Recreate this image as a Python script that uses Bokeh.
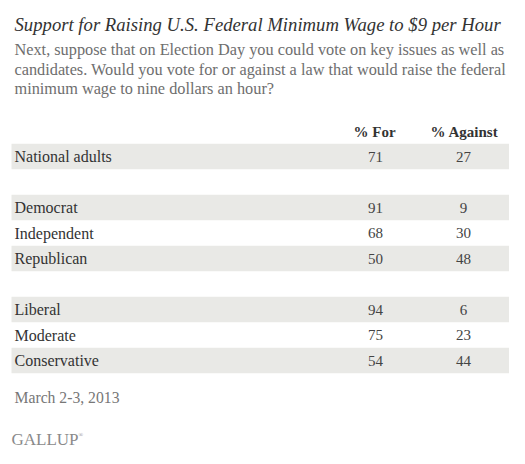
from bokeh.plotting import figure
from bokeh.models import Range1d, ColumnDataSource, Label
from bokeh.core.properties import value
from bokeh.embed import file_html
from bokeh.resources import INLINE

# ---- data ----
title = "Support for Raising U.S. Federal Minimum Wage to $9 per Hour"
subtitle = [
    "Next, suppose that on Election Day you could vote on key issues as well as",
    "candidates. Would you vote for or against a law that would raise the federal",
    "minimum wage to nine dollars an hour?",
]
col_headers = ["% For", "% Against"]
groups = [
    ["National adults"],
    ["Democrat", "Independent", "Republican"],
    ["Liberal", "Moderate", "Conservative"],
]
pct_for = [71, 91, 68, 50, 94, 75, 54]
pct_against = [27, 9, 30, 48, 6, 23, 44]
date_note = "March 2-3, 2013"
source_note = "GALLUP"

FONT = "Liberation Serif"
W, H = 509, 448

p = figure(width=W, height=H, output_backend="svg", toolbar_location=None,
           x_range=Range1d(0, W), y_range=Range1d(H, 0),
           min_border=0, outline_line_color=None)
p.axis.visible = False
p.grid.visible = False
p.background_fill_color = "white"
p.border_fill_color = "white"

# row layout (slot positions with blank spacer rows between groups)
labels, ys, shaded = [], [], []
slot = 0
row0, pitch = 156, 25.5
for gi, g in enumerate(groups):
    for k, name in enumerate(g):
        labels.append(name)
        ys.append(row0 + pitch * slot)
        shaded.append(k % 2 == 0)
        slot += 1
    slot += 1

band_y = [y for y, s in zip(ys, shaded) if s]
p.rect(x=260.5, y=band_y, width=499, height=pitch, fill_color="#e9e9e6",
       line_color=None)

src = ColumnDataSource(dict(
    label=labels, y=ys,
    f=[str(v) for v in pct_for], a=[str(v) for v in pct_against],
))
p.text(x=14, y="y", text="label", source=src, text_font=value(FONT),
       text_font_size="16px", text_color="#333333", text_baseline="middle",
       text_align="left")
p.text(x=375, y="y", text="f", source=src, text_font=value(FONT),
       text_font_size="15px", text_color="#444444", text_baseline="middle",
       text_align="center")
p.text(x=463, y="y", text="a", source=src, text_font=value(FONT),
       text_font_size="15px", text_color="#444444", text_baseline="middle",
       text_align="center")

# column headers
p.text(x=[374, 464], y=[131, 131], text=col_headers, text_font=value(FONT),
       text_font_size="15px", text_font_style="bold", text_color="#333333",
       text_baseline="middle", text_align="center")

# title and subtitle
p.add_layout(Label(x=14, y=24, text=title, text_font=FONT,
                   text_font_size="18.7px", text_font_style="italic",
                   text_color="#333333", text_baseline="middle"))
for i, line in enumerate(subtitle):
    p.add_layout(Label(x=14, y=49 + 19.5 * i, text=line, text_font=FONT,
                       text_font_size="16.3px", text_color="#6e6e6e",
                       text_baseline="middle"))

# footer
p.add_layout(Label(x=14, y=397, text=date_note, text_font=FONT,
                   text_font_size="15.7px", text_color="#777777",
                   text_baseline="middle"))
p.add_layout(Label(x=11, y=439, text=source_note, text_font=FONT,
                   text_font_size="17px", text_color="#8a8a8a",
                   text_baseline="middle"))
p.add_layout(Label(x=78, y=434, text="®", text_font=FONT,
                   text_font_size="6px", text_color="#8a8a8a",
                   text_baseline="middle"))

open("out.html", "w").write(file_html(p, INLINE))
